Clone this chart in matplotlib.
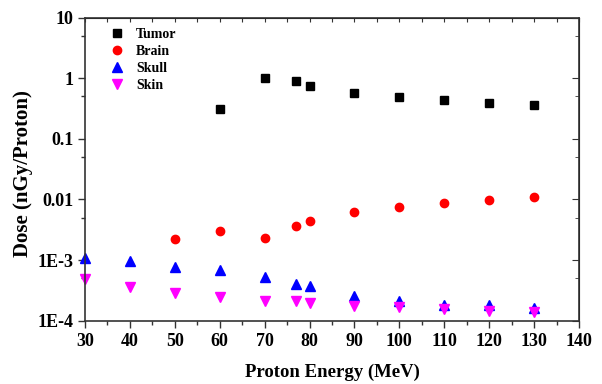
import numpy as np
import matplotlib.pyplot as plt
from matplotlib.ticker import FixedLocator, NullFormatter

energy = [30, 40, 50, 60, 70, 77, 80, 90, 100, 110, 120, 130]

tumor_e = [60, 70, 77, 80, 90, 100, 110, 120, 130]
tumor = [0.305, 1.0, 0.89, 0.75, 0.57, 0.48, 0.43, 0.39, 0.355]

brain_e = [50, 60, 70, 77, 80, 90, 100, 110, 120, 130]
brain = [0.00221, 0.00303, 0.00233, 0.00367, 0.00443, 0.0061, 0.00755, 0.0088, 0.0099, 0.0110]

skull = [1.09e-3, 0.96e-3, 0.775e-3, 0.68e-3, 0.53e-3, 0.41e-3, 0.38e-3,
         0.26e-3, 0.21e-3, 0.18e-3, 0.18e-3, 0.16e-3]
skin = [0.49e-3, 0.355e-3, 0.29e-3, 0.243e-3, 0.214e-3, 0.214e-3, 0.193e-3,
        0.176e-3, 0.166e-3, 0.155e-3, 0.146e-3, 0.14e-3]

yticks = [1e-4, 1e-3, 0.01, 0.1, 1, 10]
yticklabels = ["1E-4", "1E-3", "0.01", "0.1", "1", "10"]
yminor = [5e-4, 5e-3, 0.05, 0.5, 5]

plt.rcParams['font.family'] = ['Liberation Serif', 'DejaVu Serif']
plt.rcParams['font.weight'] = 'bold'

fig = plt.figure(figsize=(6.02, 3.84), dpi=100)
ax = fig.add_axes([0.1412, 0.1648, 0.8206, 0.7896])

ax.plot(tumor_e, tumor, 's', color='black', ms=5.5, label='Tumor', clip_on=False)
ax.plot(brain_e, brain, 'o', color='red', ms=6, label='Brain', clip_on=False)
ax.plot(energy, skull, '^', color='blue', ms=7, label='Skull', clip_on=False)
ax.plot(energy, skin, 'v', color='magenta', ms=7, label='Skin', clip_on=False)

ax.set_yscale('log')
ax.set_xlim(30, 140)
ax.set_ylim(1e-4, 10)
ax.set_xticks(np.arange(30, 141, 10))
ax.set_xticks(np.arange(35, 140, 10), minor=True)
ax.yaxis.set_major_locator(FixedLocator(yticks))
ax.set_yticklabels(yticklabels)
ax.yaxis.set_minor_locator(FixedLocator(yminor))
ax.yaxis.set_minor_formatter(NullFormatter())

for s in ax.spines.values():
    s.set_linewidth(1.2)
    s.set_color('#333333')

ax.tick_params(which='both', direction='out', top=False, right=False,
               color='#333333', width=1.0, labelsize=13)
ax.tick_params(which='major', length=5)
ax.tick_params(which='minor', length=3)

ax2 = ax.secondary_xaxis('top')
ax2.set_xticks(np.arange(30, 141, 5))
ax2.tick_params(direction='in', length=3, labeltop=False, color='#333333')
ax3 = ax.secondary_yaxis('right')
ax3.yaxis.set_major_locator(FixedLocator(yticks))
ax3.yaxis.set_minor_locator(FixedLocator(yminor))
ax3.tick_params(which='both', direction='in', labelright=False, color='#333333')
ax3.tick_params(which='major', length=5)
ax3.tick_params(which='minor', length=3)
ax3.yaxis.set_minor_formatter(NullFormatter())

ax.set_xlabel('Proton Energy (MeV)', fontsize=13.5, fontweight='bold', labelpad=10)
ax.set_ylabel('Dose (nGy/Proton)', fontsize=15, fontweight='bold')
ax.yaxis.set_label_coords(-0.105, 0.486)

ax.legend(loc='upper left', frameon=False, fontsize=10, handlelength=1.5,
          handletextpad=0.6, borderaxespad=0, borderpad=0, labelspacing=0.3,
          bbox_to_anchor=(0.044, 0.967))

fig.savefig('out.png', dpi=100)
